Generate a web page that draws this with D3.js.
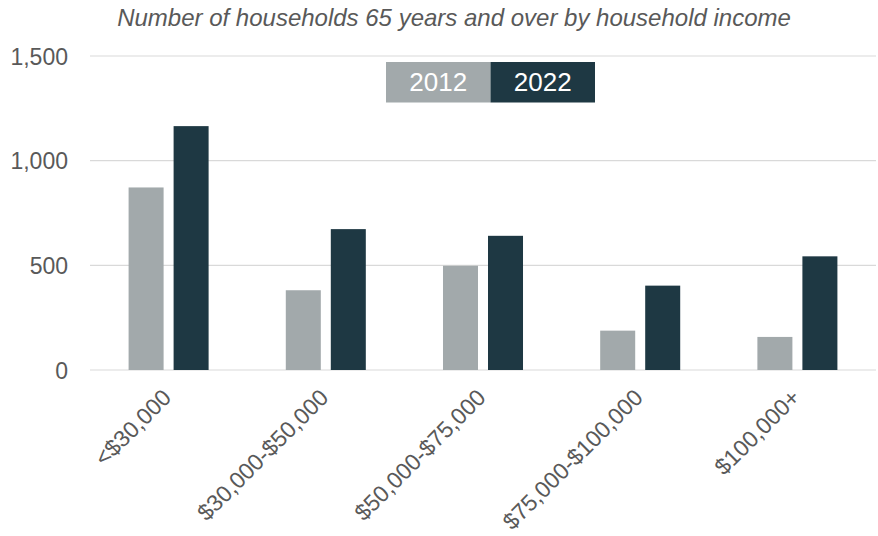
<!DOCTYPE html>
<html>
<head>
<meta charset="utf-8">
<script src="https://cdn.jsdelivr.net/npm/d3@7"></script>
<style>
  html, body { margin: 0; padding: 0; background: #fff; }
  svg { display: block; font-family: "Liberation Sans", Arial, sans-serif; }
</style>
</head>
<body>
<svg id="chart" width="878" height="536"></svg>
<script>
const title = "Number of households 65 years and over by household income";
const categories = ["<$30,000", "$30,000-$50,000", "$50,000-$75,000", "$75,000-$100,000", "$100,000+"];
const seriesNames = ["2012", "2022"];
const values2012 = [872, 381, 498, 188, 158];
const values2022 = [1165, 673, 641, 403, 543];
const yTicks = [0, 500, 1000, 1500];
const colors = ["#a2a9ab", "#1e3843"];

(function () {
const series = [values2012, values2022];
const data = categories.map((c, i) => ({ cat: c, vals: series.map((s, j) => ({ key: seriesNames[j], value: s[i] })) }));

const svg = d3.select("#chart");
const mLeft = 90, mRight = 876, mTop = 56, mBottom = 370;

const x0 = d3.scaleBand().domain(categories).range([mLeft, mRight]).paddingInner(0.491).paddingOuter(0.2455);
const x1 = d3.scaleBand().domain(seriesNames).range([0, x0.bandwidth()]).paddingInner(0.2222);
const y = d3.scaleLinear().domain([0, 1500]).range([mBottom, mTop]);
const color = d3.scaleOrdinal().domain(seriesNames).range(colors);

// gridlines
svg.append("g").selectAll("line").data(yTicks).join("line")
  .attr("x1", mLeft).attr("x2", mRight)
  .attr("y1", d => y(d)).attr("y2", d => y(d))
  .attr("stroke", "#d9d9d9").attr("stroke-width", 1.2);

// y axis labels
const yAxis = d3.axisLeft(y).tickValues(yTicks).tickFormat(d3.format(",")).tickSize(0).tickPadding(0);
const gy = svg.append("g").attr("transform", `translate(68,0)`).call(yAxis);
gy.select(".domain").remove();
gy.selectAll("text").attr("fill", "#595959").style("font-size", "23px").attr("dy", "0.35em");

// bars
const groups = svg.append("g").selectAll("g").data(data).join("g")
  .attr("transform", d => `translate(${x0(d.cat)},0)`);
groups.selectAll("rect").data(d => d.vals).join("rect")
  .attr("x", d => x1(d.key))
  .attr("width", x1.bandwidth())
  .attr("y", d => y(d.value))
  .attr("height", d => y(0) - y(d.value))
  .attr("fill", d => color(d.key));

// x labels
const xAxis = d3.axisBottom(x0).tickSize(0).tickPadding(0);
const gx = svg.append("g").attr("transform", `translate(0,${mBottom})`).call(xAxis);
gx.select(".domain").remove();
gx.selectAll("text")
  .attr("fill", "#595959").style("font-size", "23px")
  .attr("text-anchor", "end")
  .attr("dy", null)
  .attr("transform", "translate(4,29) rotate(-45)");

// title
svg.append("text").attr("x", 454).attr("y", 26).attr("text-anchor", "middle")
  .attr("fill", "#595959").style("font-size", "24px").style("font-style", "italic")
  .text(title);

// legend
const lg = svg.append("g").attr("transform", "translate(386,62)");
const lw = 104.5, lh = 40.5;
const li = lg.selectAll("g").data(seriesNames).join("g").attr("transform", (d, i) => `translate(${i * lw},0)`);
li.append("rect").attr("width", lw).attr("height", lh).attr("fill", d => color(d));
li.append("text").attr("x", lw / 2).attr("y", lh / 2).attr("dy", "0.35em").attr("text-anchor", "middle")
  .attr("fill", "#fff").style("font-size", "26px").text(d => d);
})();
</script>
</body>
</html>
